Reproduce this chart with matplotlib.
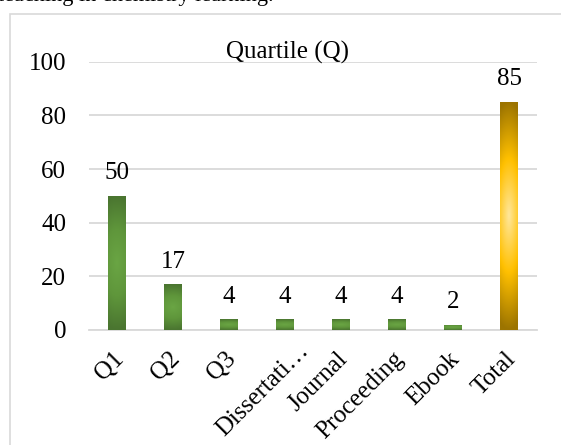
import numpy as np
import matplotlib
matplotlib.use('Agg')
from matplotlib import pyplot
from matplotlib.colors import LinearSegmentedColormap
from matplotlib.patches import Rectangle
from matplotlib.transforms import ScaledTranslation

categorias = ['Q1', 'Q2', 'Q3', 'Dissertati…', 'Journal', 'Proceeding', 'Ebook', 'Total']
valores = [50, 17, 4, 4, 4, 4, 2, 85]
titulo = 'Quartile (Q)'
texto_arriba = 'teaching in chemistry learning.'
ticks_y = [0, 20, 40, 60, 80, 100]

pyplot.rcParams['font.family'] = ['Liberation Serif', 'DejaVu Serif']

verde = LinearSegmentedColormap.from_list('verde', ['#6aa544', '#5f963b', '#4a7530'])
dorado = LinearSegmentedColormap.from_list('dorado', ['#ffe79c', '#ffc000', '#9c7400'])


def degradado(ax, barra, cmap):
	# gradiente desde el centro de la barra hacia los bordes
	x0 = barra.get_x()
	x1 = x0 + barra.get_width()
	h = barra.get_height()
	yy, xx = np.mgrid[-1:1:200j, -1:1:40j]
	t = np.clip(np.sqrt(yy ** 2 + (0.35 * xx) ** 2), 0, 1)
	img = ax.imshow(t, cmap=cmap, vmin=0, vmax=1, extent=(x0, x1, 0, h),
		aspect='auto', origin='lower', zorder=3, interpolation='bilinear')
	img.set_clip_path(barra)


def main():
	fig = pyplot.figure(figsize=(5.61, 4.45), dpi=100)
	ax = fig.add_axes([89 / 561, 1 - 330 / 445, 448 / 561, 268.3 / 445])

	# marco del grafico
	fig.patches.append(Rectangle((10 / 561, -0.1), 1.2, 1 - 13.5 / 445 + 0.1,
		transform=fig.transFigure, fill=False, edgecolor='#d9d9d9', linewidth=1.2))
	fig.text(-2 / 561, 1 - 0.5 / 445, texto_arriba, fontsize=16, ha='left', va='baseline')
	fig.text(287 / 561, 1 - 59 / 445, titulo, fontsize=18, ha='center', va='baseline')

	x = np.arange(len(categorias))
	barras = ax.bar(x, valores, width=0.32, color='#5f963b', zorder=2)
	for i, barra in enumerate(barras):
		degradado(ax, barra, dorado if categorias[i] == 'Total' else verde)
		ax.annotate(str(valores[i]), (x[i], valores[i]), xytext=(0, 12),
			textcoords='offset points', ha='center', va='baseline', fontsize=18)

	ax.set_xlim(-0.5, len(categorias) - 0.5)
	ax.set_ylim(0, 100)
	ax.set_yticks(ticks_y)
	ax.yaxis.grid(True, color='#d9d9d9', linewidth=1.3, zorder=0)
	ax.set_axisbelow(True)
	for lado in ['top', 'right', 'left']:
		ax.spines[lado].set_visible(False)
	ax.spines['bottom'].set_color('#d9d9d9')
	ax.spines['bottom'].set_linewidth(1.3)
	ax.tick_params(axis='y', length=0, pad=16.5, labelsize=18)
	ax.tick_params(axis='x', length=0, pad=18.5, labelsize=18)
	ax.set_xticks(x)
	etiquetas = ax.set_xticklabels(categorias, rotation=45, ha='right', va='center',
		rotation_mode='anchor')
	for etiqueta in etiquetas:
		dx = 20 if etiqueta.get_text().endswith('…') else 3
		dy = 8 if etiqueta.get_text().endswith('…') else 0
		etiqueta.set_transform(etiqueta.get_transform() +
			ScaledTranslation(dx / 100, dy / 100, fig.dpi_scale_trans))

	fig.savefig('out.png', dpi=100)


if __name__ == '__main__':
	main()
